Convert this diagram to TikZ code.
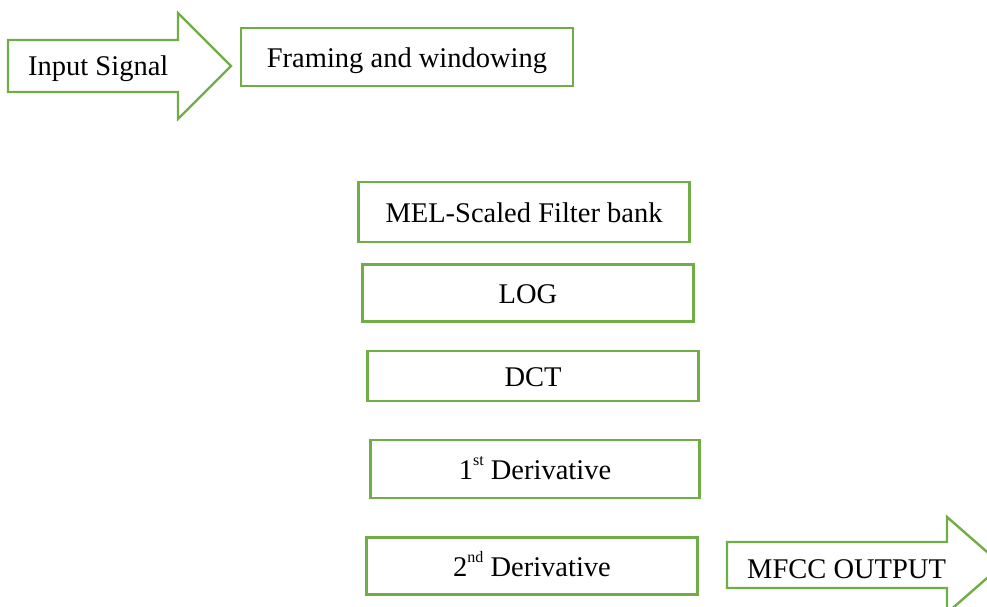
\documentclass[tikz,border=0pt]{standalone}
\usepackage{fontspec}
\setmainfont{Liberation Serif}
\definecolor{stagegreen}{HTML}{70AD47}
\newcommand{\ordsup}[1]{\raisebox{0.5em}{\fontsize{16}{16}\selectfont #1}}
\begin{document}
\begin{tikzpicture}[x=1pt,y=-1pt,line join=miter,
	font=\fontsize{28.5}{34}\selectfont,
	stage/.style={draw=stagegreen,line width=2.4pt,inner sep=0pt,minimum height=57pt,minimum width=331pt,text height=21pt,text depth=0pt},
	bigarrow/.style={draw=stagegreen,line width=2.4pt}]
	\useasboundingbox (0,0) rectangle (987,607);
	% input arrow
	\draw[bigarrow] (8,40)--(178,40)--(178,13)--(231,66)--(178,119)--(178,92)--(8,92)--cycle;
	\node[anchor=base west,inner sep=0pt](insig) at (28,76) {Input Signal};
	\node[stage,minimum height=58pt,minimum width=332pt](frame) at (407,57) {Framing and windowing};
	% processing stages
	\node[stage,minimum height=60pt](mel) at (524,212) {MEL-Scaled Filter bank};
	\node[stage](log) at (528,293) {LOG};
	\node[stage,minimum height=50pt](dct) at (533,376) {DCT};
	\node[stage,minimum height=58pt,minimum width=329pt](dfirst) at (535,469) {1\ordsup{st} Derivative};
	\node[stage](dsecond) at (532,566) {2\ordsup{nd} Derivative};
	% output arrow
	\begin{scope}
		\clip (0,0) rectangle (987,607);
		\draw[bigarrow] (727,542)--(947,542)--(947,517)--(1002,565)--(947,613)--(947,588)--(727,588)--cycle;
	\end{scope}
	\node[anchor=base west,inner sep=0pt](mfcc) at (747,578) {MFCC OUTPUT};
\end{tikzpicture}
\end{document}
